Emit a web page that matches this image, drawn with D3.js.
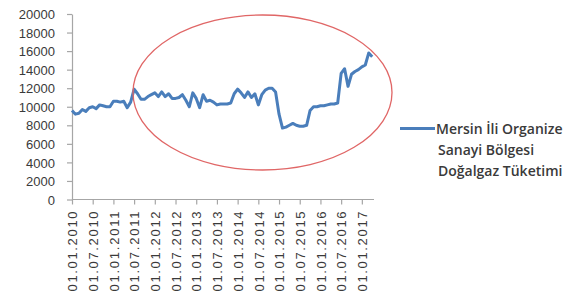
<!DOCTYPE html>
<html><head><meta charset="utf-8">
<script src="https://cdn.jsdelivr.net/npm/d3@7"></script>
<style>body{margin:0;background:#fff}svg{display:block}</style>
</head><body>
<svg id="c" width="578" height="304"></svg>
<script>
// Monthly values, Jan 2010 .. Apr 2017
const values = [
 9600, 9200, 9300, 9700, 9500, 9900, 10000, 9800, 10200, 10100, 10000, 10000,
 10600, 10600, 10500, 10600, 9900, 10500, 11900, 11400, 10800, 10800, 11100, 11300,
 11500, 11100, 11600, 11100, 11400, 10900, 10900, 11000, 11300, 10700, 10000, 11500,
 10900, 9900, 11300, 10600, 10700, 10500, 10200, 10300, 10300, 10300, 10400, 11400,
 11900, 11500, 11000, 11600, 11000, 11400, 10200, 11300, 11800, 12000, 12000, 11600,
 9200, 7700, 7800, 8000, 8200, 8000, 7900, 7900, 8000, 9600, 10000, 10000,
 10100, 10100, 10200, 10300, 10300, 10400, 13600, 14100, 12200, 13500, 13800, 14000,
 14300, 14500, 15800, 15400
];
const categories = values.map((v, i) => {
  const y = 2010 + Math.floor(i / 12), m = (i % 12) + 1;
  return "01." + String(m).padStart(2, "0") + "." + y;
});
const tickLabels = ["01.01.2010","01.07.2010","01.01.2011","01.07.2011","01.01.2012","01.07.2012",
  "01.01.2013","01.07.2013","01.01.2014","01.07.2014","01.01.2015","01.07.2015","01.01.2016","01.07.2016","01.01.2017"];
const yTicks = [0,2000,4000,6000,8000,10000,12000,14000,16000,18000,20000];
const seriesName = ["Mersin İli Organize", "Sanayi Bölgesi", "Doğalgaz Tüketimi"];

const svg = d3.select("#c");
const x = d3.scalePoint().domain(categories).range([72, 372.2]);
const y = d3.scaleLinear().domain([0, 20000]).range([199.5, 14]);

const axisColor = "#a6a6a6", textColor = "#3a3a3a";

// Y axis
const ya = svg.append("g").attr("transform", "translate(72,0)")
  .call(d3.axisLeft(y).tickValues(yTicks).tickSize(5).tickSizeOuter(0).tickPadding(12).tickFormat(d3.format("d")));
ya.select(".domain").attr("stroke", axisColor).attr("stroke-width", 1.2);
ya.selectAll(".tick line").attr("stroke", axisColor).attr("stroke-width", 1.2);
ya.selectAll("text").attr("fill", textColor).style("font-family", "Liberation Sans, Arial, sans-serif")
  .style("font-size", "13px").attr("dy", "0.36em");

// X axis
const xa = svg.append("g").attr("transform", "translate(0,199.5)")
  .call(d3.axisBottom(x).tickValues(tickLabels).tickSize(5).tickSizeOuter(0));
xa.select(".domain").attr("stroke", axisColor).attr("stroke-width", 1.2)
  .attr("d", "M72,0H374");
xa.selectAll(".tick line").attr("stroke", axisColor).attr("stroke-width", 1.2);
xa.selectAll("text")
  .attr("fill", textColor)
  .style("font-family", "Liberation Sans, Arial, sans-serif")
  .style("font-size", "13px")
  .attr("text-anchor", "end")
  .attr("transform", "rotate(-90)")
  .attr("x", -12).attr("y", 0).attr("dy", "0.36em")
  .attr("textLength", 80).attr("lengthAdjust", "spacing");

// Line
const line = d3.line().x((d, i) => x(categories[i])).y(d => y(d)).curve(d3.curveLinear);
svg.append("path").datum(values)
  .attr("d", line).attr("fill", "none")
  .attr("stroke", "#4a7ebb").attr("stroke-width", 3).attr("stroke-linejoin", "round");

// Ellipse annotation
svg.append("ellipse").attr("cx", 262.5).attr("cy", 92.5).attr("rx", 129.5).attr("ry", 77.5)
  .attr("fill", "none").attr("stroke", "#e06666").attr("stroke-width", 1.3);

// Legend
const lg = svg.append("g");
lg.append("line").attr("x1", 400).attr("x2", 435).attr("y1", 128.5).attr("y2", 128.5)
  .attr("stroke", "#4a7ebb").attr("stroke-width", 3);
lg.selectAll("text").data(seriesName).join("text")
  .attr("x", (d, i) => i === 0 ? 436 : 438)
  .attr("y", (d, i) => 133.5 + i * 21)
  .attr("fill", textColor)
  .style("font-family", "Open Sans, sans-serif")
  .style("font-size", "14px")
  .style("font-weight", "600")
  .text(d => d);
</script>
</body></html>
